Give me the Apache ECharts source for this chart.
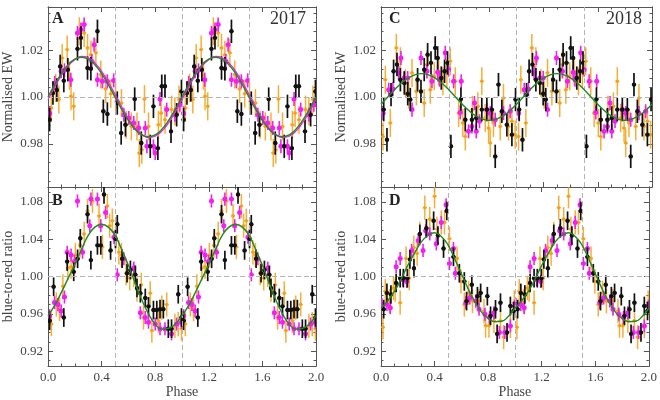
<!DOCTYPE html>
<html>
<head>
<meta charset="utf-8">
<script src="https://cdn.jsdelivr.net/npm/echarts@6/dist/echarts.min.js"></script>
<style>
    html, body { margin: 0; padding: 0; background: #fff; }
    #chart { width: 660px; height: 400px; }
</style>
</head>
<body>
<div id="chart"></div>
<script>
// measurements over one cycle, [phase, value]; each is shown twice (phase and phase + 1)
const ewA_orange = [[0.025,0.9953],[0.057,1.0039],[0.081,0.9989],[0.106,1.0167],[0.143,1.0203],[0.16,1.0091],[0.172,1.0003],[0.192,0.996],[0.234,1.0281],[0.27,1.0274],[0.295,1.021],[0.32,1.0181],[0.357,1.0189],[0.394,1.0096],[0.43,1.0034],[0.468,1.0014],[0.504,1.0003],[0.548,0.9974],[0.583,0.9881],[0.622,0.9874],[0.664,0.9874],[0.681,0.976],[0.70,0.9774],[0.72,0.9991],[0.75,0.9874],[0.824,0.9881],[0.844,0.9931],[0.873,0.9903],[0.922,0.9946],[0.947,0.9939],[0.977,0.9989]]
const ewA_magenta = [[0.012,0.9931],[0.05,1.006],[0.098,1.011],[0.123,1.0114],[0.17,1.0074],[0.22,1.0274],[0.246,1.0289],[0.27,1.031],[0.327,1.0153],[0.344,1.0224],[0.369,1.0074],[0.406,1.0067],[0.443,1.0067],[0.49,1.0071],[0.517,0.998],[0.566,0.9924],[0.603,0.991],[0.64,0.9889],[0.677,0.9867],[0.726,0.9867],[0.738,0.9789],[0.787,0.9789],[0.80,0.976],[0.836,0.9991],[0.886,0.9946],[0.947,0.9924],[0.984,0.9967]]
const ewA_black = [[0.012,0.9903],[0.037,1.0017],[0.066,1.003],[0.091,1.0131],[0.118,1.007],[0.148,1.0117],[0.22,1.0206],[0.246,1.0253],[0.295,1.0124],[0.32,1.0121],[0.369,1.0281],[0.413,0.9939],[0.443,0.9927],[0.517,0.9974],[0.546,0.9846],[0.578,0.9881],[0.647,0.9991],[0.696,0.9803],[0.763,0.9789],[0.787,0.996],[0.82,0.9781],[0.849,1.0046],[0.873,1.0046],[0.918,0.9853],[0.96,0.9924],[0.996,1.0024]]

const ratioB_orange = [[0.025,0.949],[0.062,0.970],[0.086,0.965],[0.111,0.9895],[0.148,1.0088],[0.172,1.0105],[0.204,1.023],[0.239,1.0334],[0.27,1.0457],[0.295,1.0703],[0.332,1.081],[0.381,1.065],[0.406,1.0317],[0.443,1.0756],[0.46,1.0545],[0.48,1.0598],[0.504,1.042],[0.529,1.026],[0.548,1.023],[0.583,1.0035],[0.61,0.998],[0.64,1.0018],[0.664,0.986],[0.696,0.991],[0.713,0.956],[0.763,0.982],[0.775,0.942],[0.824,0.9525],[0.849,0.9666],[0.886,0.970],[0.947,0.947],[0.972,0.949],[0.996,0.944]]
const ratioB_magenta = [[0.012,0.958],[0.049,0.972],[0.074,0.970],[0.098,0.963],[0.123,0.978],[0.143,1.026],[0.172,1.023],[0.197,1.016],[0.22,1.081],[0.258,1.026],[0.312,1.0545],[0.32,1.083],[0.369,1.083],[0.394,1.0545],[0.43,1.0686],[0.492,1.042],[0.517,1.0018],[0.566,1.019],[0.64,1.009],[0.689,0.961],[0.726,0.956],[0.75,0.951],[0.80,0.949],[0.836,0.944],[0.873,0.944],[0.922,0.9385],[0.96,0.949],[0.996,0.951]]
const ratioB_black = [[0.012,0.9525],[0.042,0.989],[0.118,0.956],[0.143,1.016],[0.192,1.005],[0.221,1.019],[0.241,1.041],[0.295,1.0668],[0.32,1.0176],[0.369,1.0334],[0.394,1.0334],[0.418,1.088],[0.467,1.028],[0.504,1.0404],[0.517,1.056],[0.553,1.019],[0.59,1.0035],[0.615,1.007],[0.652,1.0018],[0.664,0.9877],[0.689,0.982],[0.726,0.977],[0.75,0.968],[0.787,0.964],[0.812,0.964],[0.836,0.965],[0.861,0.965],[0.898,0.944],[0.922,0.944],[0.972,0.981],[0.996,0.956]]

const ewC_orange = [[0.015,0.9831],[0.032,1.0074],[0.069,0.9889],[0.113,1.021],[0.143,1.0153],[0.18,1.006],[0.204,1.001],[0.229,1.0103],[0.261,1.0024],[0.319,0.9974],[0.339,1.0139],[0.364,1.0031],[0.393,1.0089],[0.425,1.011],[0.457,1.0067],[0.486,1.0103],[0.511,1.0153],[0.548,1.0067],[0.573,0.9931],[0.604,0.9889],[0.622,0.9831],[0.675,0.9945],[0.715,0.996],[0.744,1.0067],[0.769,0.991],[0.794,0.9867],[0.806,0.9803],[0.83,0.9889],[0.88,0.9874],[0.904,0.9996],[0.941,0.9874],[0.966,0.9896],[0.99,0.9839]]
const ewC_magenta = [[0.015,0.9931],[0.057,1.0031],[0.088,1.0034],[0.13,1.0103],[0.147,1.0167],[0.172,1.0081],[0.197,1.0081],[0.229,0.9946],[0.295,1.0167],[0.339,1.011],[0.376,1.0067],[0.418,1.0106],[0.432,1.0074],[0.474,1.0189],[0.499,1.0117],[0.536,1.0067],[0.585,0.9934],[0.592,1.0067],[0.646,0.9853],[0.671,0.9874],[0.69,0.9974],[0.703,0.9853],[0.727,0.9896],[0.781,0.9946],[0.806,0.9931],[0.843,0.9903],[0.904,0.9931],[0.953,0.9939]]
const ewC_black = [[0.02,0.9946],[0.044,0.9817],[0.074,1.001],[0.093,1.011],[0.118,1.0139],[0.143,1.0074],[0.172,1.006],[0.197,1.0014],[0.216,0.9989],[0.27,1.0074],[0.295,1.0024],[0.319,1.0117],[0.344,1.0181],[0.369,1.0146],[0.40,1.021],[0.418,1.0167],[0.445,1.0081],[0.469,1.011],[0.491,1.0146],[0.516,0.9789],[0.59,0.9991],[0.622,0.9903],[0.671,0.9903],[0.703,0.991],[0.744,0.9946],[0.781,0.9946],[0.818,0.9946],[0.843,0.9746],[0.867,1.0053],[0.892,0.9939],[0.929,0.9881],[0.966,0.9839],[0.993,0.9989]]

const ratioD_orange = [[0.015,0.9455],[0.032,0.9842],[0.064,0.9736],[0.093,0.9877],[0.106,0.986],[0.143,0.9719],[0.187,1.0193],[0.211,0.9982],[0.245,1.031],[0.27,1.0246],[0.29,1.0457],[0.327,1.0738],[0.364,1.0615],[0.40,1.086],[0.418,1.051],[0.45,1.058],[0.474,1.058],[0.511,1.0404],[0.568,1.0193],[0.597,0.9947],[0.622,0.970],[0.654,0.9824],[0.683,0.9736],[0.732,0.9736],[0.769,0.9631],[0.781,0.9473],[0.806,0.9473],[0.843,0.9525],[0.892,0.9525],[0.916,0.935],[0.966,0.947],[0.995,0.972]]
const ratioD_magenta = [[0.007,0.970],[0.044,0.970],[0.069,0.9666],[0.113,1.0105],[0.143,1.0193],[0.162,0.9965],[0.192,0.9947],[0.229,1.028],[0.278,1.0387],[0.314,1.028],[0.334,1.049],[0.364,1.0457],[0.413,1.035],[0.45,1.058],[0.486,1.077],[0.511,1.014],[0.541,1.030],[0.555,1.0035],[0.634,0.9719],[0.663,0.977],[0.708,0.9736],[0.732,0.9648],[0.776,0.9596],[0.811,0.956],[0.843,0.961],[0.884,0.940],[0.924,0.940],[0.966,0.947],[0.998,0.968]]
const ratioD_black = [[0.02,0.965],[0.044,0.9824],[0.074,0.9807],[0.113,0.993],[0.143,0.9982],[0.167,0.9982],[0.197,0.9982],[0.216,1.0183],[0.246,1.0088],[0.29,1.0457],[0.339,1.0517],[0.393,1.0598],[0.425,1.044],[0.467,1.030],[0.491,1.0703],[0.541,1.0211],[0.585,1.0035],[0.622,0.9947],[0.639,0.9736],[0.678,0.9912],[0.72,0.9789],[0.744,0.9824],[0.794,0.9789],[0.818,0.9578],[0.855,0.9648],[0.867,0.9385],[0.892,0.9719],[0.941,0.940],[0.966,0.9684],[0.99,0.963]]

// error half-widths: orange, magenta, black
const errEW = [0.006, 0.003, 0.005]
const errRatio = [0.013, 0.007, 0.010]

// fitted curves, read at these phases
const fitPhase = [0, 0.05, 0.1, 0.15, 0.2, 0.25, 0.3, 0.35, 0.4, 0.45, 0.5, 0.55, 0.6, 0.65, 0.7, 0.75, 0.8, 0.85, 0.9, 0.95, 1.0]
const fitA = [1.0, 1.0053, 1.0100, 1.0138, 1.0162, 1.0170, 1.0162, 1.0138, 1.0100, 1.0053, 1.0, 0.9947, 0.9900, 0.9862, 0.9838, 0.9830, 0.9838, 0.9862, 0.9900, 0.9947, 1.0]
const fitA_magenta = [0.9989, 1.0043, 1.0092, 1.0133, 1.0160, 1.0174, 1.0168, 1.0146, 1.0110, 1.0064, 1.0011, 0.9957, 0.9908, 0.9867, 0.9840, 0.9826, 0.9832, 0.9854, 0.9890, 0.9936, 0.9989]
const fitB = [0.958, 0.969, 0.983, 0.998, 1.013, 1.029, 1.044, 1.053, 1.056, 1.053, 1.044, 1.029, 1.012, 0.993, 0.975, 0.960, 0.949, 0.9435, 0.9445, 0.949, 0.958]
const fitC = [0.9969, 1.0, 1.0031, 1.0059, 1.0081, 1.0095, 1.0100, 1.0095, 1.0081, 1.0059, 1.0031, 1.0, 0.9969, 0.9941, 0.9919, 0.9905, 0.9900, 0.9905, 0.9919, 0.9941, 0.9969]
const fitD = [0.966, 0.974, 0.984, 0.997, 1.012, 1.025, 1.037, 1.044, 1.047, 1.043, 1.034, 1.019, 1.003, 0.987, 0.973, 0.962, 0.955, 0.9515, 0.952, 0.957, 0.966]

const xTicks = [0, 0.4, 0.8, 1.2, 1.6, 2.0]
const ewTicks = [0.98, 1.00, 1.02]
const ratioTicks = [0.92, 0.96, 1.00, 1.04, 1.08]
const phaseLines = [0.5, 1.0, 1.5]

const COLORS = ["rgba(245,160,20,0.85)", "#f21ef2", "#111"]
const GREEN = "#1f8a1f"
const AXIS_COLOR = "#555"
const TEXT_COLOR = "#444"
const FONT = "Liberation Serif"

const panels = [
    { grid: { left: 45, top: 7, width: 271, height: 180 }, min: 0.9615, max: 1.0385, ticks: ewTicks, minorStep: 0.004,
      name: "Normalised EW", bottom: false, sets: [ewA_orange, ewA_magenta, ewA_black], err: errEW, fit: fitA, fit2: fitA_magenta },
    { grid: { left: 45, top: 187, width: 271, height: 182 }, min: 0.904, max: 1.096, ticks: ratioTicks, minorStep: 0.01,
      name: "blue-to-red ratio", bottom: true, sets: [ratioB_orange, ratioB_magenta, ratioB_black], err: errRatio, fit: fitB },
    { grid: { left: 381, top: 7, width: 271, height: 180 }, min: 0.9615, max: 1.0385, ticks: ewTicks, minorStep: 0.004,
      name: "Normalised EW", bottom: false, sets: [ewC_orange, ewC_magenta, ewC_black], err: errEW, fit: fitC },
    { grid: { left: 381, top: 187, width: 271, height: 182 }, min: 0.904, max: 1.096, ticks: ratioTicks, minorStep: 0.01,
      name: "blue-to-red ratio", bottom: true, sets: [ratioD_orange, ratioD_magenta, ratioD_black], err: errRatio, fit: fitD },
]

function minorValues(min, max, step) {
    const out = []
    for (let k = Math.ceil(min / step - 1e-9); k * step <= max + 1e-9; k++) {
        out.push(+(k * step).toFixed(4))
    }
    return out
}

// show one cycle twice
function twoCycles(points) {
    const out = []
    points.forEach(p => out.push([p[0], p[1]]))
    points.forEach(p => out.push([p[0] + 1, p[1]]))
    return out
}

function fitLine(values) {
    const out = fitPhase.map((p, k) => [p, values[k]])
    fitPhase.slice(1).forEach((p, k) => out.push([p + 1, values[k + 1]]))
    return out
}

const lineStyle = { color: AXIS_COLOR, width: 1 }
const grids = []
const xAxes = []
const yAxes = []
const series = []

panels.forEach((p, i) => {
    grids.push({ ...p.grid, show: false })

    const xBase = {
        type: "value", gridIndex: i, min: 0, max: 2, interval: 0.4,
        axisLine: { show: true, onZero: false, lineStyle },
        axisTick: { show: true, inside: true, length: 5, lineStyle },
        minorTick: { show: true, splitNumber: 4, length: 2.5, lineStyle },
        splitLine: { show: false },
    }
    xAxes.push({
        ...xBase, position: "bottom",
        axisLabel: { show: p.bottom, customValues: xTicks, formatter: v => v.toFixed(1),
            color: TEXT_COLOR, fontFamily: FONT, fontSize: 13, margin: 5 },
        name: p.bottom ? "Phase" : "", nameLocation: "middle", nameGap: 19,
        nameTextStyle: { color: TEXT_COLOR, fontFamily: FONT, fontSize: 14 },
    })
    xAxes.push({ ...xBase, position: "top", axisLabel: { show: false } })

    const yBase = {
        type: "value", gridIndex: i, min: p.min, max: p.max,
        axisLine: { show: true, onZero: false, lineStyle },
        splitLine: { show: false },
    }
    const majorTick = { show: true, inside: true, length: 5, customValues: p.ticks, lineStyle }
    const minorTick = { show: true, inside: true, length: 2.5, customValues: minorValues(p.min, p.max, p.minorStep), lineStyle }
    yAxes.push({
        ...yBase, position: "left", axisTick: majorTick,
        axisLabel: { customValues: p.ticks, formatter: v => v.toFixed(2),
            color: TEXT_COLOR, fontFamily: FONT, fontSize: 13, margin: 5 },
        name: p.name, nameLocation: "middle", nameGap: 33,
        nameTextStyle: { color: TEXT_COLOR, fontFamily: FONT, fontSize: 14 },
    })
    yAxes.push({ ...yBase, position: "right", axisTick: majorTick, axisLabel: { show: false } })
    yAxes.push({ ...yBase, position: "left", axisTick: minorTick, axisLabel: { show: false } })
    yAxes.push({ ...yBase, position: "right", axisTick: minorTick, axisLabel: { show: false } })

    const axes = { xAxisIndex: 2 * i, yAxisIndex: 4 * i }

    // dashed reference lines
    series.push({
        type: "line", ...axes, data: [], z: 1, silent: true,
        markLine: {
            silent: true, symbol: "none", label: { show: false },
            lineStyle: { color: "#b4b4b4", type: [5, 3], width: 1 },
            data: [...phaseLines.map(v => ({ xAxis: v })), { yAxis: 1 }],
        },
    })

    const sizes = [1.8, 2.5, 2.2]
    const widths = [1.5, 1.6, 1.7]
    p.sets.forEach((pts, c) => {
        const color = COLORS[c]
        series.push({
            type: "custom", ...axes, clip: true, silent: true, z: 2 + c,
            data: twoCycles(pts).map(d => [d[0], d[1], p.err[c]]),
            renderItem(params, api) {
                const x = api.value(0), y = api.value(1), e = api.value(2)
                const pt = api.coord([x, y])
                const lo = api.coord([x, y - e])
                const hi = api.coord([x, y + e])
                const st = { stroke: color, lineWidth: widths[c] }
                return {
                    type: "group",
                    children: [
                        { type: "line", shape: { x1: pt[0], y1: lo[1], x2: pt[0], y2: hi[1] }, style: st },
                        { type: "line", shape: { x1: pt[0] - 2, y1: pt[1], x2: pt[0] + 2, y2: pt[1] }, style: st },
                        { type: "circle", shape: { cx: pt[0], cy: pt[1], r: sizes[c] }, style: { fill: color } },
                    ],
                }
            },
        })
    })

    if (p.fit2) {
        series.push({
            type: "line", ...axes, data: fitLine(p.fit2), smooth: true, showSymbol: false, z: 6, silent: true,
            lineStyle: { color: "#f21ef2", width: 1.3 },
        })
    }
    series.push({
        type: "line", ...axes, data: fitLine(p.fit), smooth: true, showSymbol: false, z: 7, silent: true,
        lineStyle: { color: GREEN, width: 1.4 },
    })
})

const letter = (text, x, y) => ({
    type: "text", x, y, z: 20,
    style: { text, fill: "#222", font: `bold 16px "${FONT}"`, textVerticalAlign: "top" },
})
const year = (text, x) => ({
    type: "text", x, y: 10, z: 20,
    style: { text, fill: "#333", font: `18px "${FONT}"`, textAlign: "right", textVerticalAlign: "top" },
})

const chart = echarts.init(document.getElementById("chart"), null, { renderer: "canvas" })
chart.setOption({
    animation: false,
    backgroundColor: "#fff",
    grid: grids,
    xAxis: xAxes,
    yAxis: yAxes,
    series,
    graphic: [
        letter("A", 52, 11), letter("B", 52, 193),
        letter("C", 389, 11), letter("D", 389, 193),
        year("2017", 306), year("2018", 642),
    ],
})
</script>
</body>
</html>
